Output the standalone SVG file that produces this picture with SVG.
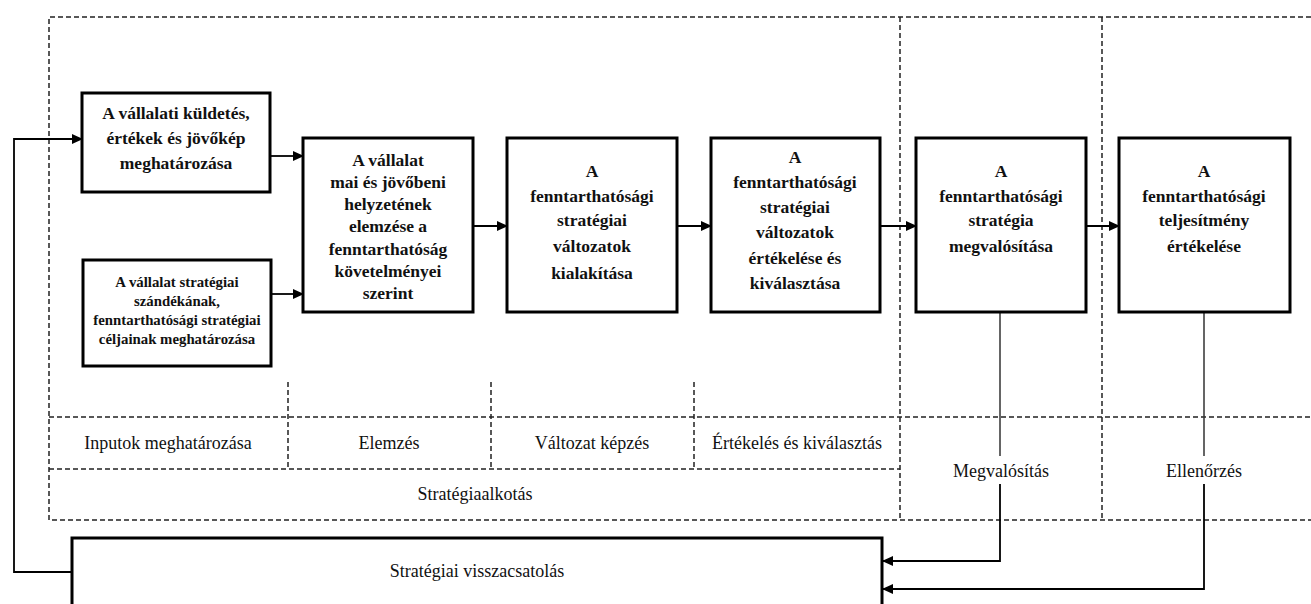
<svg xmlns="http://www.w3.org/2000/svg" width="1311" height="604" viewBox="0 0 1311 604">
<defs>
<marker id="ah" markerWidth="11" markerHeight="11" refX="10" refY="5.5" orient="auto" markerUnits="userSpaceOnUse">
<path d="M0,0.5 L11,5.5 L0,10.5 Z" fill="#000"/>
</marker>
<style>
.box{fill:#fff;stroke:#000;stroke-width:3}
.dash{fill:none;stroke:#222;stroke-width:1.5;stroke-dasharray:5 3}
.con{fill:none;stroke:#333;stroke-width:1.5}
.arr{fill:none;stroke:#000;stroke-width:1.8;marker-end:url(#ah)}
.bt{font-family:"Liberation Serif",serif;font-weight:bold;font-size:17.5px;text-anchor:middle;fill:#111}
.st{font-family:"Liberation Serif",serif;font-weight:bold;font-size:14.8px;text-anchor:middle;fill:#111}
.lb{font-family:"Liberation Serif",serif;font-size:18px;text-anchor:middle;fill:#111}
</style>
</defs>
<rect width="1311" height="604" fill="#fff"/>
<g id="frame">
<path class="dash" d="M1311,17 H49 V520 H1311"/>
<path class="dash" d="M900,17 V520 M1102,17 V520"/>
<path class="dash" d="M49,417 H1311 M49,469 H900"/>
<path class="dash" d="M288,382 V469 M491,382 V469 M694,382 V469"/>
</g>
<g id="labels">
<text class="lb" x="168" y="449">Inputok meghatározása</text>
<text class="lb" x="389" y="449">Elemzés</text>
<text class="lb" x="592" y="449">Változat képzés</text>
<text class="lb" x="797" y="449">Értékelés és kiválasztás</text>
<text class="lb" x="475" y="500">Stratégiaalkotás</text>
<text class="lb" x="1001" y="477">Megvalósítás</text>
<text class="lb" x="1204" y="477">Ellenőrzés</text>
</g>
<g id="connectors">
<path class="arr" d="M271,156 H303"/>
<path class="arr" d="M271,294 H303"/>
<path class="arr" d="M473,226 H507"/>
<path class="arr" d="M677,226 H711"/>
<path class="arr" d="M880,226 H916"/>
<path class="arr" d="M1086,226 H1119"/>
<path class="con" d="M1000,312 V456 M1204,312 V456"/>
<path class="arr" d="M1000,484 V561 H883"/>
<path class="arr" d="M1204,484 V589 H883"/>
<path class="arr" d="M72,572 H14 V139 H82"/>
</g>
<g id="n1">
<rect class="box" x="82" y="93" width="188" height="99"/>
<text class="bt" x="176" y="119">A vállalati küldetés,</text>
<text class="bt" x="176" y="144">értékek és jövőkép</text>
<text class="bt" x="176" y="169">meghatározása</text>
</g>
<g id="n2">
<rect class="box" x="83" y="260" width="188" height="106"/>
<text class="st" x="177" y="287">A vállalat stratégiai</text>
<text class="st" x="177" y="306">szándékának,</text>
<text class="st" x="177" y="325">fenntarthatósági stratégiai</text>
<text class="st" x="177" y="344">céljainak meghatározása</text>
</g>
<g id="n3">
<rect class="box" x="303" y="138" width="170" height="174"/>
<text class="bt" x="388" y="166">A vállalat</text>
<text class="bt" x="388" y="188">mai és jövőbeni</text>
<text class="bt" x="388" y="210">helyzetének</text>
<text class="bt" x="388" y="232">elemzése a</text>
<text class="bt" x="388" y="255">fenntarthatóság</text>
<text class="bt" x="388" y="277">követelményei</text>
<text class="bt" x="388" y="299">szerint</text>
</g>
<g id="n4">
<rect class="box" x="507" y="138" width="170" height="174"/>
<text class="bt" x="592" y="177">A</text>
<text class="bt" x="592" y="202">fenntarthatósági</text>
<text class="bt" x="592" y="226">stratégiai</text>
<text class="bt" x="592" y="252">változatok</text>
<text class="bt" x="592" y="279">kialakítása</text>
</g>
<g id="n5">
<rect class="box" x="711" y="138" width="169" height="174"/>
<text class="bt" x="795" y="163">A</text>
<text class="bt" x="795" y="188">fenntarthatósági</text>
<text class="bt" x="795" y="213">stratégiai</text>
<text class="bt" x="795" y="238">változatok</text>
<text class="bt" x="795" y="264">értékelése és</text>
<text class="bt" x="795" y="289">kiválasztása</text>
</g>
<g id="n6">
<rect class="box" x="916" y="138" width="170" height="174"/>
<text class="bt" x="1001" y="177">A</text>
<text class="bt" x="1001" y="202">fenntarthatósági</text>
<text class="bt" x="1001" y="226">stratégia</text>
<text class="bt" x="1001" y="252">megvalósítása</text>
</g>
<g id="n7">
<rect class="box" x="1119" y="138" width="171" height="174"/>
<text class="bt" x="1204" y="177">A</text>
<text class="bt" x="1204" y="202">fenntarthatósági</text>
<text class="bt" x="1204" y="226">teljesítmény</text>
<text class="bt" x="1204" y="252">értékelése</text>
</g>
<g id="n8">
<rect class="box" x="72" y="538" width="810" height="80"/>
<text class="lb" x="477" y="577">Stratégiai visszacsatolás</text>
</g>
</svg>
